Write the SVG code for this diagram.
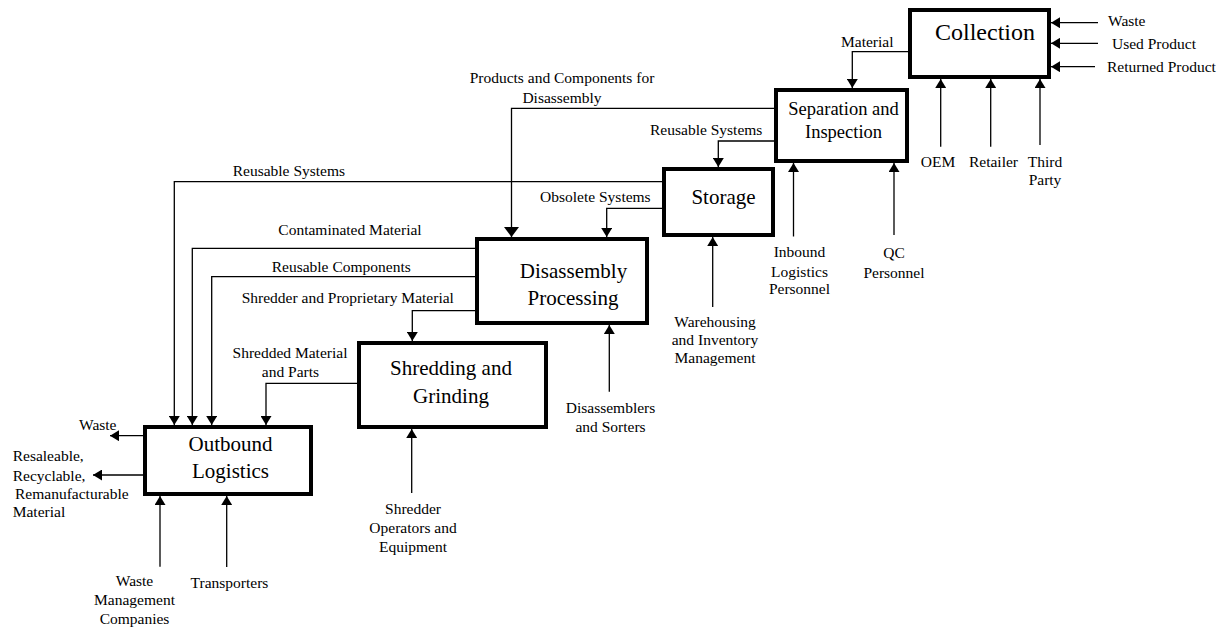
<svg xmlns="http://www.w3.org/2000/svg" width="1224" height="631" viewBox="0 0 1224 631">
<style>
.box{fill:#fff;stroke:#000;stroke-width:4}
.t{font-family:"Liberation Serif","Times New Roman",serif;fill:#000}
.title{font-size:21px;text-anchor:middle}
.lb{font-size:15.5px}
.m{text-anchor:middle}
.c{fill:none;stroke:#000;stroke-width:1.3}
</style>
<defs>
<marker id="a" markerUnits="userSpaceOnUse" viewBox="0 0 9 11" markerWidth="9" markerHeight="11" refX="9" refY="5.5" orient="auto"><path d="M0,0 L9,5.5 L0,11 z" fill="#000"/></marker>
<marker id="b" markerUnits="userSpaceOnUse" viewBox="0 0 10 15" markerWidth="10" markerHeight="15" refX="10" refY="7.5" orient="auto"><path d="M0,0 L10,7.5 L0,15 z" fill="#000"/></marker>
</defs>
<rect width="1224" height="631" fill="#fff"/>
<g id="connectors">
<path class="c" d="M1098,22.7 H1051" marker-end="url(#a)"/>
<path class="c" d="M1098,43.3 H1051" marker-end="url(#a)"/>
<path class="c" d="M1095,66.7 H1051" marker-end="url(#a)"/>
<path class="c" d="M908,51.7 H852.3 V88" marker-end="url(#a)"/>
<path class="c" d="M940.7,146.7 V79" marker-end="url(#a)"/>
<path class="c" d="M990.7,146.7 V79" marker-end="url(#a)"/>
<path class="c" d="M1040,145 V79" marker-end="url(#a)"/>
<path class="c" d="M774,108.3 H511.5 V237" marker-end="url(#b)"/>
<path class="c" d="M774,141 H718.3 V167" marker-end="url(#a)"/>
<path class="c" d="M662,181.7 H174.3 V425" marker-end="url(#a)"/>
<path class="c" d="M662,208.3 H606.7 V237" marker-end="url(#a)"/>
<path class="c" d="M475,248.3 H192.3 V425" marker-end="url(#a)"/>
<path class="c" d="M475,276.7 H211.7 V425" marker-end="url(#a)"/>
<path class="c" d="M475,310.7 H412.3 V341" marker-end="url(#a)"/>
<path class="c" d="M357,383.3 H266 V425" marker-end="url(#a)"/>
<path class="c" d="M143,435.7 H110" marker-end="url(#a)"/>
<path class="c" d="M143,475 H93" marker-end="url(#a)"/>
<path class="c" d="M160,566.7 V496" marker-end="url(#a)"/>
<path class="c" d="M226.7,567 V496" marker-end="url(#a)"/>
<path class="c" d="M411.7,493 V429" marker-end="url(#a)"/>
<path class="c" d="M609.3,391.7 V325" marker-end="url(#a)"/>
<path class="c" d="M712.7,307 V237" marker-end="url(#a)"/>
<path class="c" d="M793.5,236.5 V163" marker-end="url(#a)"/>
<path class="c" d="M894,235 V163" marker-end="url(#a)"/>
</g>
<g id="collection">
<rect class="box" x="910" y="10" width="139" height="67"/>
<text class="t" x="985" y="40" font-size="24" text-anchor="middle">Collection</text>
</g>
<g id="separation">
<rect class="box" x="776" y="90" width="131" height="71"/>
<text class="t m" x="843.5" y="115" font-size="18.5">Separation and</text>
<text class="t m" x="843.5" y="138.3" font-size="18.5">Inspection</text>
</g>
<g id="storage">
<rect class="box" x="664" y="169" width="109" height="66"/>
<text class="t title" x="723.5" y="204">Storage</text>
</g>
<g id="disassembly">
<rect class="box" x="477" y="239" width="170" height="84"/>
<text class="t title" x="573.5" y="278">Disassembly</text>
<text class="t title" x="573" y="305">Processing</text>
</g>
<g id="shredding">
<rect class="box" x="359" y="343" width="187" height="84"/>
<text class="t title" x="451" y="375">Shredding and</text>
<text class="t title" x="451" y="403">Grinding</text>
</g>
<g id="outbound">
<rect class="box" x="145" y="427" width="166" height="67"/>
<text class="t title" x="230.5" y="451">Outbound</text>
<text class="t title" x="230.5" y="478">Logistics</text>
</g>
<g id="labels">
<text class="t lb" x="1108" y="26">Waste</text>
<text class="t lb" x="1112" y="49">Used Product</text>
<text class="t lb" x="1107" y="72">Returned Product</text>
<text class="t lb" x="841" y="47">Material</text>
<text class="t lb m" x="938" y="167">OEM</text>
<text class="t lb m" x="993.5" y="167">Retailer</text>
<text class="t lb m" x="1045" y="167">Third</text>
<text class="t lb m" x="1045" y="185">Party</text>
<text class="t lb m" x="562" y="82.7">Products and Components for</text>
<text class="t lb m" x="562" y="102.7">Disassembly</text>
<text class="t lb" x="650" y="135">Reusable Systems</text>
<text class="t lb" x="232.7" y="176">Reusable Systems</text>
<text class="t lb" x="540" y="202">Obsolete Systems</text>
<text class="t lb" x="278.3" y="235">Contaminated Material</text>
<text class="t lb" x="271.7" y="272">Reusable Components</text>
<text class="t lb" x="241.7" y="303">Shredder and Proprietary Material</text>
<text class="t lb m" x="290" y="358">Shredded Material</text>
<text class="t lb m" x="290.5" y="377">and Parts</text>
<text class="t lb" x="79" y="430">Waste</text>
<text class="t lb" x="12.7" y="461">Resaleable,</text>
<text class="t lb" x="12.7" y="481">Recyclable,</text>
<text class="t lb" x="15" y="499">Remanufacturable</text>
<text class="t lb" x="12.7" y="517">Material</text>
<text class="t lb m" x="134.5" y="586">Waste</text>
<text class="t lb m" x="134.5" y="605">Management</text>
<text class="t lb m" x="134.5" y="623.5">Companies</text>
<text class="t lb m" x="229.5" y="588">Transporters</text>
<text class="t lb m" x="413" y="514">Shredder</text>
<text class="t lb m" x="413" y="533">Operators and</text>
<text class="t lb m" x="413" y="552">Equipment</text>
<text class="t lb m" x="610.5" y="412.5">Disassemblers</text>
<text class="t lb m" x="610.5" y="432">and Sorters</text>
<text class="t lb m" x="715" y="327">Warehousing</text>
<text class="t lb m" x="715" y="345">and Inventory</text>
<text class="t lb m" x="715" y="363">Management</text>
<text class="t lb m" x="799.5" y="256.5">Inbound</text>
<text class="t lb m" x="799.5" y="276.5">Logistics</text>
<text class="t lb m" x="799.5" y="294">Personnel</text>
<text class="t lb m" x="894" y="258">QC</text>
<text class="t lb m" x="894" y="278">Personnel</text>
</g>
</svg>
